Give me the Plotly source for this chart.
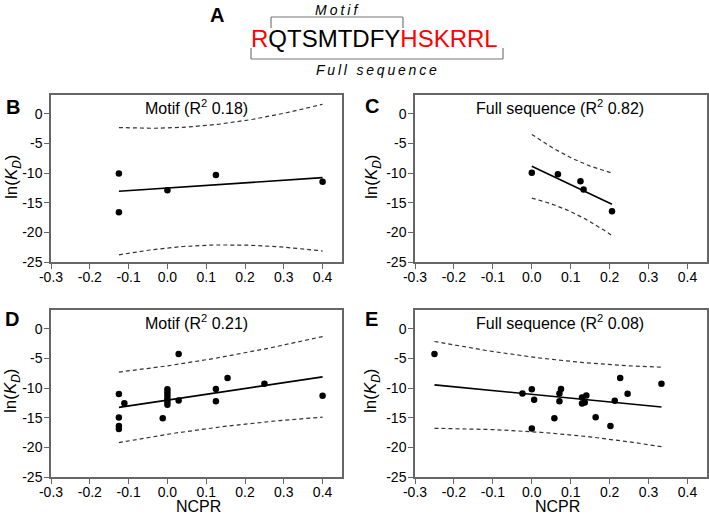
import numpy as np
import plotly.graph_objects as go

# ---------------- data ----------------
b_x = [-0.125, -0.125, 0.0, 0.125, 0.4]
b_y = [-10.05, -16.6, -12.9, -10.3, -11.45]

c_x = [0.0, 0.067, 0.125, 0.133, 0.206]
c_y = [-9.93, -10.2, -11.35, -12.75, -16.45]

d_x = [-0.125, -0.125, -0.125, -0.125, -0.111, -0.012, 0.0, 0.0, 0.0, 0.0, 0.0, 0.0,
       0.029, 0.029, 0.125, 0.125, 0.155, 0.25, 0.4]
d_y = [-11.0, -14.95, -16.4, -16.9, -12.55, -15.1, -10.2, -10.7, -11.2, -11.75, -12.3, -12.8,
       -4.23, -12.1, -10.16, -12.2, -8.3, -9.26, -11.3]

e_x = [-0.25, -0.024, 0.0, 0.006, 0.0, 0.058, 0.071, 0.075, 0.071, 0.129, 0.14, 0.129,
       0.136, 0.164, 0.202, 0.213, 0.227, 0.246, 0.333]
e_y = [-4.23, -10.9, -10.2, -11.96, -16.8, -15.1, -10.9, -10.16, -12.19, -11.57, -11.23, -12.58,
       -12.4, -14.9, -16.37, -12.13, -8.3, -10.95, -9.26]

panel_letters = ["B", "C", "D", "E"]
panel_titles = ["Motif (R<sup>2</sup> 0.18)", "Full sequence (R<sup>2</sup> 0.82)",
                "Motif (R<sup>2</sup> 0.21)", "Full sequence (R<sup>2</sup> 0.08)"]
x_tickvals = [-0.3, -0.2, -0.1, 0.0, 0.1, 0.2, 0.3, 0.4]
x_ticktext = ["-0.3", "-0.2", "-0.1", "0.0", "0.1", "0.2", "0.3", "0.4"]
y_tickvals = [0, -5, -10, -15, -20, -25]
y_ticktext = ["0", "-5", "-10", "-15", "-20", "-25"]
t_crit = {3: 3.182, 17: 2.110}  # 95% two-sided t quantiles

FONT = "Liberation Sans, Arial, sans-serif"
W, H = 709, 516


def px(x):
    return x / W


def py(y):
    return 1 - y / H


def fit(x, y):
    x = np.asarray(x, float)
    y = np.asarray(y, float)
    n = len(x)
    slope, icpt = np.polyfit(x, y, 1)
    xs = np.linspace(x.min(), x.max(), 80)
    yhat = icpt + slope * xs
    resid = y - (icpt + slope * x)
    s = np.sqrt((resid ** 2).sum() / (n - 2))
    sxx = ((x - x.mean()) ** 2).sum()
    hw = t_crit[n - 2] * s * np.sqrt(1 + 1 / n + (xs - x.mean()) ** 2 / sxx)
    return xs, yhat, yhat + hw, yhat - hw


datasets = [(b_x, b_y), (c_x, c_y), (d_x, d_y), (e_x, e_y)]
# plot-area boxes in pixels: left, right, top, bottom
boxes = [(51, 342, 95, 262), (415, 707, 95, 262), (51, 342, 310, 477), (415, 707, 310, 477)]

fig = go.Figure()
layout = dict(width=W, height=H, margin=dict(l=0, r=0, t=0, b=0, autoexpand=False),
              paper_bgcolor="white", plot_bgcolor="white", showlegend=False,
              font=dict(family=FONT, color="black"))

for i, ((xd, yd), (l, r, t, b)) in enumerate(zip(datasets, boxes)):
    sfx = "" if i == 0 else str(i + 1)
    xa, ya = "x" + sfx, "y" + sfx
    xs, yh, up, lo = fit(xd, yd)
    for band in (up, lo):
        fig.add_trace(go.Scatter(x=xs, y=band, mode="lines", xaxis=xa, yaxis=ya,
                                 line=dict(color="#333", width=1.2, dash="4px,3px")))
    fig.add_trace(go.Scatter(x=xs, y=yh, mode="lines", xaxis=xa, yaxis=ya,
                             line=dict(color="black", width=1.6)))
    fig.add_trace(go.Scatter(x=xd, y=yd, mode="markers", xaxis=xa, yaxis=ya,
                             marker=dict(color="black", size=6.5)))
    common = dict(showline=True, mirror=True, linecolor="#666", linewidth=1.5,
                  ticks="outside", ticklen=5, tickwidth=1.2, tickcolor="#666",
                  showgrid=False, zeroline=False, automargin=False,
                  tickfont=dict(family=FONT, size=14, color="black"))
    layout["xaxis" + sfx] = dict(common, domain=[px(l), px(r)], range=[-0.3, 0.45],
                                 tickvals=x_tickvals, ticktext=x_ticktext, anchor=ya,
                                 ticklabelstandoff=-4)
    layout["yaxis" + sfx] = dict(common, domain=[py(b), py(t)], range=[-25, 3.2],
                                 tickvals=y_tickvals, ticktext=y_ticktext, anchor=xa,
                                 ticklabelstandoff=-1)

annotations = []


def ann(text, x, y, size, **kw):
    d = dict(text=text, x=px(x), y=py(y), xref="paper", yref="paper", showarrow=False,
             xanchor="center", yanchor="middle", font=dict(family=FONT, size=size, color="black"))
    d.update(kw)
    annotations.append(d)


# header A
ann("<b>A</b>", 217, 15, 20)
ann('<span style="color:#ff0000">R</span>QTSMTDFY<span style="color:#ff0000">HSKRRL</span>',
    374.5, 38, 24)
ann('<i><span style="letter-spacing:3px">Motif</span></i>', 337, 10, 14)
ann('<i><span style="letter-spacing:2.8px">Full sequence</span></i>', 378, 70, 14)

letter_pos = [(13, 107), (372, 106), (12, 319), (371, 319)]
title_pos = [(196.5, 107), (560, 107), (196.5, 322), (560, 322)]
ylab_pos = [(13, 177), (373, 176), (12, 391), (372, 391)]
for k in range(4):
    ann("<b>%s</b>" % panel_letters[k], *letter_pos[k], 20)
    ann(panel_titles[k], *title_pos[k], 16)
    ann("ln(<i>K</i><sub><i>D</i></sub>)", *ylab_pos[k], 17, textangle=-90)
ann("NCPR", 198, 506, 16)
ann("NCPR", 557, 506, 16)

layout["annotations"] = annotations

# brackets around sequence
gray = dict(color="#777", width=1.2)
shapes = []
for (x0, y0, x1, y1) in [(271, 17, 403, 17), (271, 17, 271, 28), (403, 17, 403, 28),
                         (251, 59, 503, 59), (251, 48, 251, 59), (503, 48, 503, 59)]:
    shapes.append(dict(type="line", xref="paper", yref="paper", x0=px(x0), y0=py(y0),
                       x1=px(x1), y1=py(y1), line=gray))
layout["shapes"] = shapes

fig.update_layout(**layout)
fig.write_html("out.html", config={"displayModeBar": False},
               post_script="document.body.style.margin='0';document.body.style.overflow='hidden';")
